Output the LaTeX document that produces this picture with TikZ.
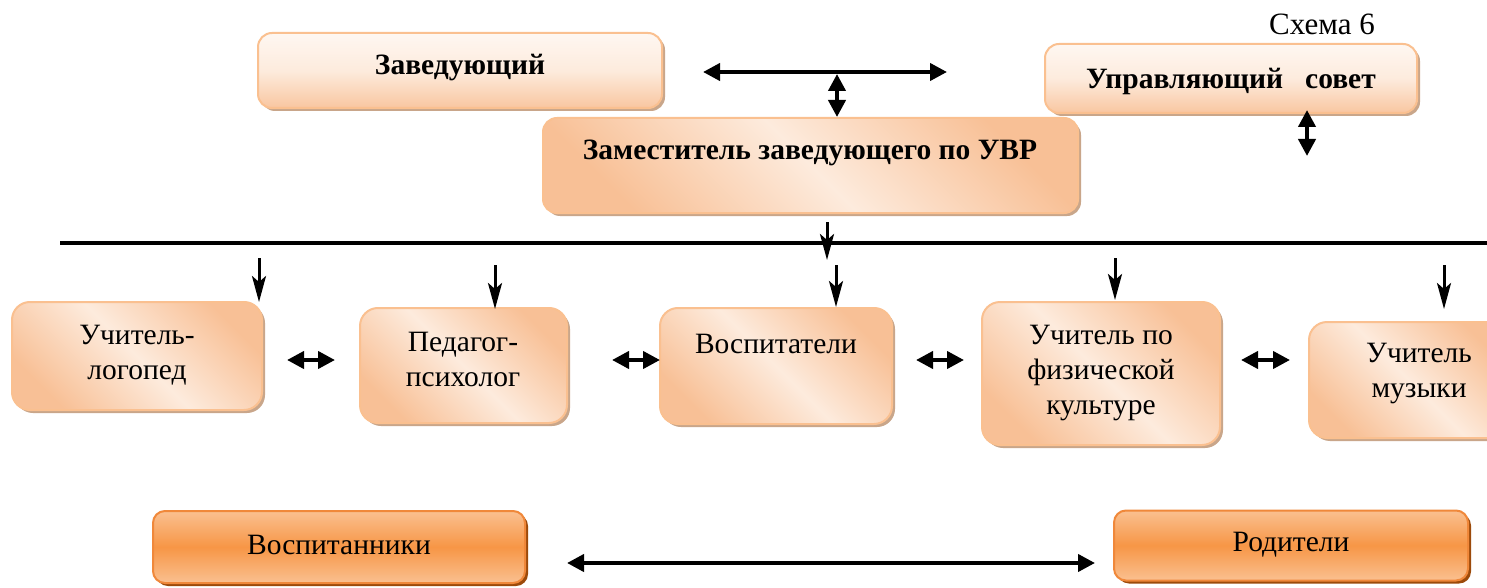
\documentclass[tikz,border=0pt]{standalone}
\usepackage{fontspec}
\setmainfont{Liberation Serif}
\usetikzlibrary{arrows.meta,shadows,calc}
\definecolor{peach}{HTML}{F8C096}
\definecolor{lightp}{HTML}{FDEBDD}
\definecolor{bord}{HTML}{FAC090}
\definecolor{shad}{HTML}{C9A68A}
\definecolor{orng}{HTML}{F79646}
\definecolor{orngl}{HTML}{FAC090}
\definecolor{orngb}{HTML}{F0883A}
\definecolor{orngs}{HTML}{9C4A0A}
\tikzset{
  lbox/.style={draw=bord, line width=2pt, rounded corners=18pt,
    top color=peach, bottom color=peach, middle color=lightp, shading angle=135,
    general shadow={fill=shad, shadow xshift=3pt, shadow yshift=-3pt}},
  tbox/.style={lbox, rounded corners=14pt, top color=white!60!lightp, bottom color=peach!90, middle color=lightp, shading angle=0},
  obox/.style={draw=orngb, line width=2pt, rounded corners=12pt,
    top color=orngl, bottom color=orngl, middle color=orng,
    general shadow={fill=orngs, shadow xshift=3pt, shadow yshift=-3pt}},
  txt/.style={font=\fontsize{29.5}{35}\selectfont, align=center, inner sep=0pt},
  btxt/.style={font=\fontsize{29.5}{34}\selectfont\bfseries, align=center, inner sep=0pt},
  darr/.style={line width=4pt, {Triangle[length=17pt,width=17pt]}-{Triangle[length=17pt,width=17pt]}},
  dnarr/.style={line width=3pt, -{Stealth[length=26pt,width=14pt,inset=6pt]}},
}
\begin{document}
\begin{tikzpicture}[x=1pt,y=-1pt]
\useasboundingbox (0,0) rectangle (1487,588);
\fill[white] (0,0) rectangle (1487,588);
% top boxes
\node[tbox, minimum width=404pt, minimum height=75pt] (zav) at (460,70.5) {};
\node[btxt] (zavt) at (460,68) {Заведующий};
\node[tbox, minimum width=372pt, minimum height=69pt] (sov) at (1231,78.5) {};
\node[btxt] (sovt) at (1231,81) {Управляющий\ \ \ совет};
\node[lbox, rounded corners=14pt, minimum width=535pt, minimum height=95pt] (zam) at (810.5,165.5) {};
\node[btxt] (zamt) at (810,153) {Заместитель заведующего по УВР};
\node[font=\fontsize{31}{36}\selectfont, inner sep=0pt] (schema) at (1322,24) {Схема 6};
% top arrows
\coordinate (ha) at (703,72);
\coordinate (hb) at (947,72);
\draw[darr] (ha) -- (hb);
\coordinate (va) at (837,74);
\draw[darr] (va) -- (zam.north -| va);
\coordinate (sa) at (1307,110);
\coordinate (sb) at (1307,156);
\draw[darr] (sa) -- (sb);
% horizontal bus
\coordinate (busl) at (60,243);
\coordinate (busr) at (1487,243);
\draw[line width=4.5pt] (busl) -- (busr);
\coordinate (zs) at (827,222);
\coordinate (zd) at (827,260);
\draw[dnarr] (zs) -- (zd);
% row boxes
\node[lbox, minimum width=250pt, minimum height=108pt] (log) at (137,356) {};
\node[txt] (logt) at (137,355) {Учитель-\\логопед};
\node[lbox, minimum width=207pt, minimum height=115pt] (ped) at (463.5,365.5) {};
\node[txt] (pedt) at (463,359) {Педагог-\\психолог};
\node[lbox, minimum width=232pt, minimum height=116pt] (vos) at (776,366) {};
\node[txt] (vost) at (776,344) {Воспитатели};
\node[lbox, minimum width=238pt, minimum height=143pt] (fiz) at (1101,373.5) {};
\node[txt] (fizt) at (1101,373) {Учитель по\\физической\\культуре};
\node[lbox, minimum width=200pt, minimum height=116pt] (muz) at (1409,380) {};
\node[txt] (muzt) at (1419,374) {Учитель\\музыки};
% down arrows
\foreach \n/\x/\ya/\yb in {1/259/258/302, 2/495/265/309, 3/836/265/307, 4/1115/258/300, 5/1444/265/309}{
  \coordinate (d\n a) at (\x,\ya);
  \coordinate (d\n b) at (\x,\yb);
  \draw[dnarr] (d\n a) -- (d\n b);
}
% side arrows
\foreach \n/\xa/\xb in {1/287/335, 2/612/660, 3/916/964, 4/1241/1290}{
  \coordinate (s\n a) at (\xa,360);
  \coordinate (s\n b) at (\xb,360);
  \draw[darr] (s\n a) -- (s\n b);
}
% bottom boxes
\node[obox, minimum width=372pt, minimum height=72pt] (pup) at (339,547) {};
\node[txt] (pupt) at (339,545) {Воспитанники};
\node[obox, minimum width=354pt, minimum height=70pt] (par) at (1291,545.5) {};
\node[txt] (part) at (1291,545) {Родители};
\coordinate (ba) at (567,563);
\coordinate (bb) at (1095,563);
\draw[darr] (ba) -- (bb);
\end{tikzpicture}
\end{document}
